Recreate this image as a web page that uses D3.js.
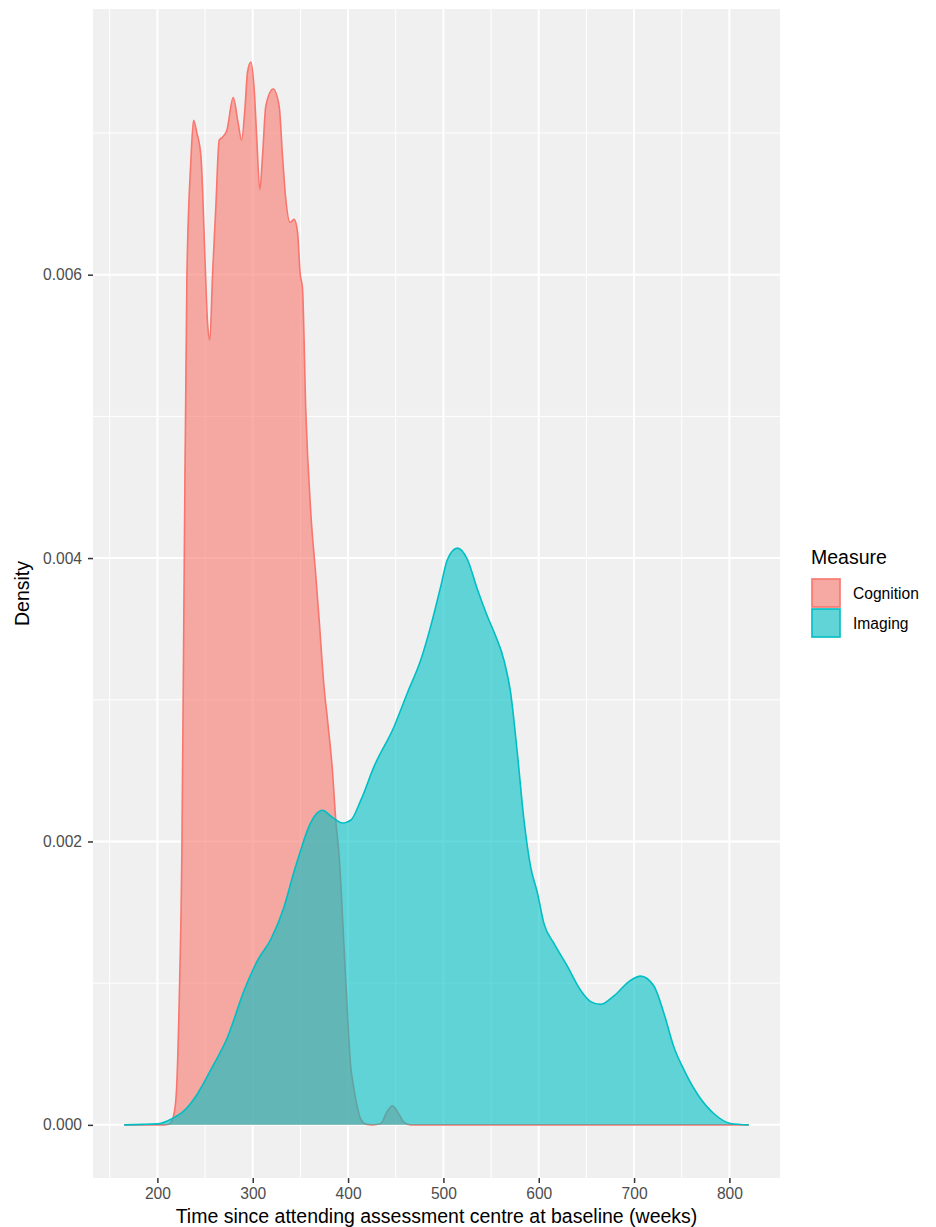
<!DOCTYPE html>
<html>
<head>
<meta charset="utf-8">
<script src="https://cdn.jsdelivr.net/npm/d3@7"></script>
<style>
  body { margin: 0; background: #fff; }
  text { font-family: "Liberation Sans", Arial, sans-serif; }
</style>
</head>
<body>
<div id="grafica"></div>
<script>
  let width = 936;
  let height = 1227;

  // valores (semanas, densidad)
  const cognitionWeeks = [165.2, 200, 206.8, 212, 215.9, 219.4, 222.9, 225.7, 228.1, 230.9, 235.1, 237.9, 241.4, 245.6, 247.4, 249.8, 252.6, 255, 257.9, 261.3, 264.8, 268.3, 272.9, 279.5, 284.7, 288.3, 292, 294.5, 298, 301.5, 304.3, 307.4, 310.3, 313.7, 321.4, 327.7, 331.2, 334.7, 339.2, 343.4, 347, 349.7, 352.2, 355.7, 360.9, 366.1, 369.6, 374.8, 378.4, 383.6, 387.1, 390.6, 395.8, 399.4, 402.8, 404.6, 408.1, 413.3, 418.6, 425.9, 434.3, 440.6, 446.6, 452.1, 458.4, 465.7, 820.3];
  const cognitionDensity = [0, 0, 0, 0.000005, 0.00004, 0.00018, 0.00088, 0.00194, 0.00392, 0.00597, 0.0068, 0.00709, 0.0070, 0.00684, 0.0066, 0.00613, 0.00566, 0.00554, 0.00601, 0.00648, 0.00695, 0.00697, 0.00702, 0.00725, 0.00707, 0.00695, 0.00719, 0.00743, 0.0075, 0.00731, 0.00695, 0.0066, 0.00684, 0.00719, 0.00731, 0.00719, 0.00684, 0.00653, 0.00637, 0.00639, 0.0063, 0.00601, 0.0059, 0.00503, 0.00432, 0.00388, 0.00357, 0.00309, 0.00286, 0.0025, 0.00215, 0.0019, 0.00125, 0.00078, 0.00041, 0.00032, 0.00018, 0.00004, 0.000005, 0, 0.00001, 0.00009, 0.000135, 0.00009, 0.00002, 0, 0];

  const imagingWeeks = [165.2, 200.2, 214.2, 228.1, 242.1, 256.1, 273.6, 291, 305, 319, 332.9, 343.4, 350.4, 357.4, 366.1, 373.2, 383.6, 394.1, 402.8, 413.3, 427.3, 448.2, 462.3, 476.2, 486.7, 497.2, 504.2, 514.7, 525.2, 535.6, 546.1, 554.8, 563.5, 570.5, 577.6, 584.5, 591.5, 598.5, 605.5, 616, 630, 643.9, 654.4, 664.9, 678.8, 696.3, 706.8, 720.8, 731.2, 741.7, 752.2, 766.2, 783.6, 801.2, 820.3];
  const imagingDensity = [0, 0.000007, 0.00004, 0.0001, 0.00022, 0.00039, 0.00062, 0.00095, 0.00116, 0.00131, 0.00154, 0.00179, 0.00194, 0.00208, 0.00219, 0.00222, 0.00217, 0.00213, 0.00215, 0.00229, 0.00253, 0.00281, 0.00305, 0.00328, 0.00352, 0.0038, 0.00399, 0.00407, 0.00399, 0.00378, 0.00359, 0.00345, 0.00328, 0.00305, 0.00262, 0.00215, 0.00182, 0.00164, 0.00142, 0.00128, 0.00112, 0.00095, 0.00087, 0.00085, 0.00091, 0.00102, 0.00105, 0.00098, 0.00079, 0.00055, 0.00039, 0.00022, 0.00008, 0.00001, 0];

  const measures = ["Cognition", "Imaging"];
  const colores = ["#F8766D", "#00BFC4"];
  const xTicks = [200, 300, 400, 500, 600, 700, 800];
  const xMinor = [150, 250, 350, 450, 550, 650, 750];
  const yTicks = [0, 0.002, 0.004, 0.006];
  const yMinor = [0.001, 0.003, 0.005, 0.007];

  const series = [
    { nombre: measures[0], color: colores[0], puntos: cognitionWeeks.map((w, i) => [w, cognitionDensity[i]]) },
    { nombre: measures[1], color: colores[1], puntos: imagingWeeks.map((w, i) => [w, imagingDensity[i]]) }
  ];

  const panel = { left: 93, right: 780, top: 9, bottom: 1178 };

  // rango con expansion del 5% como ggplot
  let xExt = d3.extent(cognitionWeeks.concat(imagingWeeks));
  let xPad = (xExt[1] - xExt[0]) * 0.05;
  let yMax = d3.max(cognitionDensity.concat(imagingDensity));
  let yPad = yMax * 0.05;

  const x = d3.scaleLinear()
    .domain([xExt[0] - xPad, xExt[1] + xPad])
    .range([panel.left, panel.right]);

  const y = d3.scaleLinear()
    .domain([-yPad, yMax + yPad])
    .range([panel.bottom, panel.top]);

  const svg = d3.select("#grafica")
    .append("svg")
    .attr("width", width)
    .attr("height", height);

  svg.append("rect")
    .attr("width", width)
    .attr("height", height)
    .attr("fill", "#fff");

  // fondo del panel
  svg.append("rect")
    .attr("x", panel.left)
    .attr("y", panel.top)
    .attr("width", panel.right - panel.left)
    .attr("height", panel.bottom - panel.top)
    .attr("fill", "#F0F0F0");

  // rejilla
  const grid = svg.append("g");
  grid.selectAll(".vminor")
    .data(xMinor)
    .enter()
    .append("line")
    .attr("x1", d => x(d)).attr("x2", d => x(d))
    .attr("y1", panel.top).attr("y2", panel.bottom)
    .attr("stroke", "#fff").attr("stroke-width", 1);
  grid.selectAll(".hminor")
    .data(yMinor)
    .enter()
    .append("line")
    .attr("y1", d => y(d)).attr("y2", d => y(d))
    .attr("x1", panel.left).attr("x2", panel.right)
    .attr("stroke", "#fff").attr("stroke-width", 1);
  grid.selectAll(".vmajor")
    .data(xTicks)
    .enter()
    .append("line")
    .attr("x1", d => x(d)).attr("x2", d => x(d))
    .attr("y1", panel.top).attr("y2", panel.bottom)
    .attr("stroke", "#fff").attr("stroke-width", 2);
  grid.selectAll(".hmajor")
    .data(yTicks)
    .enter()
    .append("line")
    .attr("y1", d => y(d)).attr("y2", d => y(d))
    .attr("x1", panel.left).attr("x2", panel.right)
    .attr("stroke", "#fff").attr("stroke-width", 2);

  const area = d3.area()
    .x(d => x(d[0]))
    .y0(y(0))
    .y1(d => y(d[1]))
    .curve(d3.curveMonotoneX);

  const linea = d3.line()
    .x(d => x(d[0]))
    .y(d => y(d[1]))
    .curve(d3.curveMonotoneX);

  // densidades: relleno y contorno por grupo
  series.forEach(s => {
    svg.append("path")
      .attr("d", area(s.puntos))
      .attr("fill", s.color)
      .attr("fill-opacity", 0.6);
    svg.append("path")
      .attr("d", linea(s.puntos))
      .attr("fill", "none")
      .attr("stroke", s.color)
      .attr("stroke-width", 1.6);
  });

  // ejes
  const xAxis = svg.append("g")
    .attr("transform", `translate(0,${panel.bottom})`)
    .call(d3.axisBottom(x).tickValues(xTicks).tickSize(5).tickPadding(5).tickFormat(d3.format("d")));
  xAxis.select(".domain").remove();
  xAxis.selectAll("line").attr("stroke", "#333").attr("stroke-width", 1.5);
  xAxis.selectAll("text").attr("fill", "#4D4D4D").attr("font-size", "15.6px")
    .attr("font-family", "Liberation Sans, Arial, sans-serif");

  const yAxis = svg.append("g")
    .attr("transform", `translate(${panel.left},0)`)
    .call(d3.axisLeft(y).tickValues(yTicks).tickSize(5).tickPadding(6).tickFormat(d3.format(".3f")));
  yAxis.select(".domain").remove();
  yAxis.selectAll("line").attr("stroke", "#333").attr("stroke-width", 1.5);
  yAxis.selectAll("text").attr("fill", "#4D4D4D").attr("font-size", "15.6px")
    .attr("font-family", "Liberation Sans, Arial, sans-serif");

  // titulos de ejes
  svg.append("text")
    .attr("x", (panel.left + panel.right) / 2)
    .attr("y", 1223)
    .attr("text-anchor", "middle")
    .attr("font-size", "19.5px")
    .attr("fill", "#000")
    .text("Time since attending assessment centre at baseline (weeks)");

  svg.append("text")
    .attr("transform", `translate(29,${(panel.top + panel.bottom) / 2}) rotate(-90)`)
    .attr("text-anchor", "middle")
    .attr("font-size", "19.5px")
    .attr("fill", "#000")
    .text("Density");

  // leyenda
  const legend = svg.append("g")
    .attr("transform", "translate(811,564)");

  legend.append("text")
    .attr("x", 0)
    .attr("y", 0)
    .attr("font-size", "19.5px")
    .attr("fill", "#000")
    .text("Measure");

  const items = legend.selectAll(".item")
    .data(series)
    .enter()
    .append("g")
    .attr("transform", (d, i) => `translate(0,${14 + i * 30})`);

  items.append("rect")
    .attr("width", 30).attr("height", 30)
    .attr("fill", "#F2F2F2");

  items.append("rect")
    .attr("x", 1).attr("y", 1)
    .attr("width", 28).attr("height", 28)
    .attr("fill", d => d.color)
    .attr("fill-opacity", 0.6)
    .attr("stroke", d => d.color)
    .attr("stroke-width", 1.6);

  items.append("text")
    .attr("x", 42)
    .attr("y", 21)
    .attr("font-size", "15.6px")
    .attr("fill", "#000")
    .text(d => d.nombre);
</script>
</body>
</html>
